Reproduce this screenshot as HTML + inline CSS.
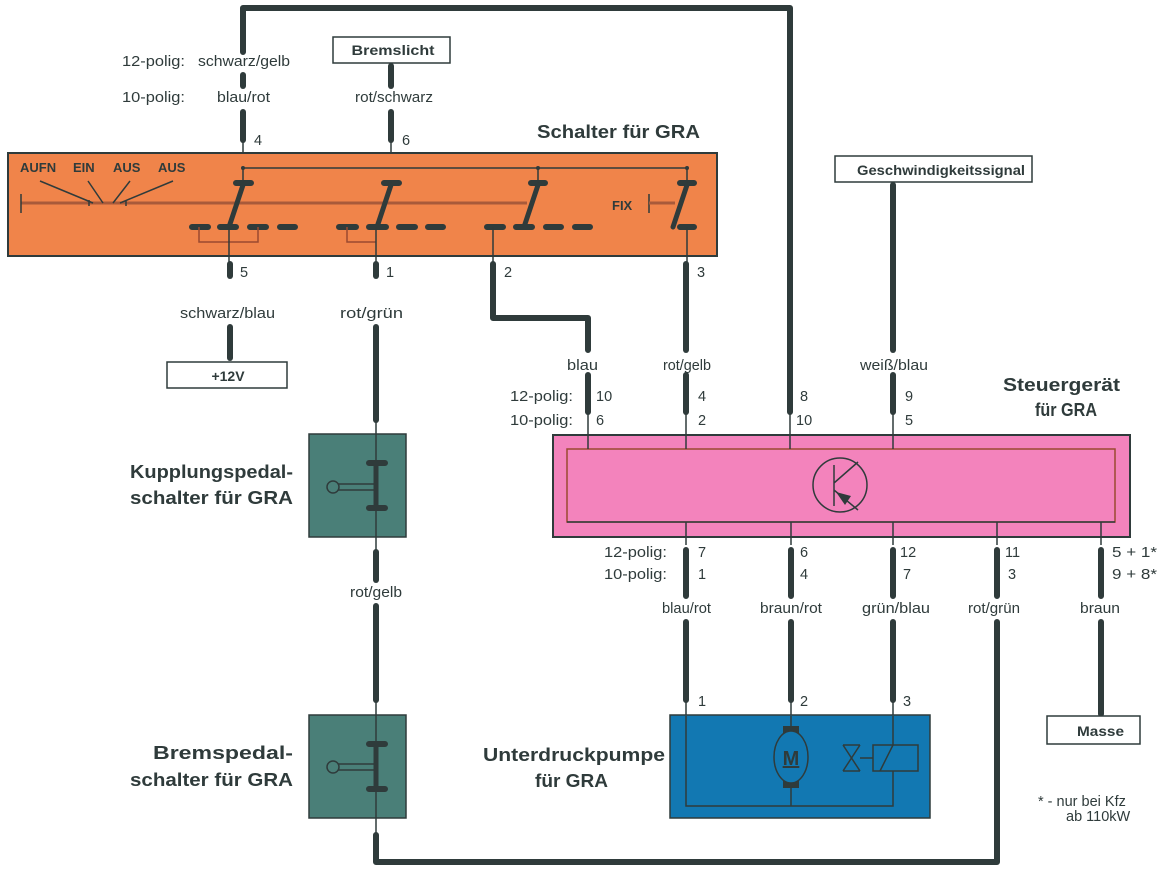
<!DOCTYPE html>
<html><head><meta charset="utf-8"><style>
html,body{margin:0;padding:0;background:#fff;}
svg{display:block;font-family:"Liberation Sans",Arial,sans-serif;}
.t{font-size:14.5px;fill:#2f3b3b;}
.b{font-weight:bold;fill:#2f3b3b;}
.w{stroke:#2f3b3b;stroke-width:6;fill:none;stroke-linecap:round;stroke-linejoin:round;}
.n{stroke:#2f3b3b;stroke-width:1.5;fill:none;}
.br{stroke:#9a4a30;stroke-width:1.5;fill:none;}
.c{stroke:#2f3b3b;stroke-width:6;stroke-linecap:round;}
</style></head><body>
<svg width="1157" height="873" viewBox="0 0 1157 873" xmlns="http://www.w3.org/2000/svg">
<path class="w" d="M243 52 V8 H790 V412"/>
<path class="w" d="M243 75 V86"/>
<path class="w" d="M243 112 V140"/>
<path class="n" d="M243 140 V168"/>
<path class="n" d="M790 412 V449"/>
<rect x="333" y="37" width="117" height="26" fill="#fff" stroke="#2f3b3b" stroke-width="1.5"/>
<text x="393" y="55" class="b" font-size="14" text-anchor="middle" textLength="83" lengthAdjust="spacingAndGlyphs">Bremslicht</text>
<path class="w" d="M391 66 V86"/><path class="w" d="M391 112 V140"/>
<path class="n" d="M391 140 V185"/>
<text x="122" y="66" class="t" textLength="63" lengthAdjust="spacingAndGlyphs">12-polig:</text>
<text x="198" y="66" class="t" textLength="92" lengthAdjust="spacingAndGlyphs">schwarz/gelb</text>
<text x="122" y="102" class="t" textLength="63" lengthAdjust="spacingAndGlyphs">10-polig:</text>
<text x="217" y="102" class="t" textLength="53" lengthAdjust="spacingAndGlyphs">blau/rot</text>
<text x="355" y="102" class="t" textLength="78" lengthAdjust="spacingAndGlyphs">rot/schwarz</text>
<text x="254" y="145" class="t">4</text>
<text x="402" y="145" class="t">6</text>
<text x="537" y="138" class="b" font-size="18" textLength="163" lengthAdjust="spacingAndGlyphs">Schalter für GRA</text>
<rect x="8" y="153" width="709" height="103" fill="#f0844a" stroke="#2f3b3b" stroke-width="2"/>
<path class="n" d="M243 168 H687"/>
<circle cx="243" cy="168" r="2" fill="#2f3b3b"/><circle cx="538" cy="168" r="2" fill="#2f3b3b"/><circle cx="687" cy="168" r="2" fill="#2f3b3b"/>
<path class="n" d="M538 168 V183 M687 168 V183 M243 168 V183"/>
<text x="20" y="172" class="b" font-size="13">AUFN</text>
<text x="73" y="172" class="b" font-size="13">EIN</text>
<text x="113" y="172" class="b" font-size="13">AUS</text>
<text x="158" y="172" class="b" font-size="13">AUS</text>
<path d="M21 203 H527" stroke="#a85a3a" stroke-width="3"/>
<path class="n" d="M21 194 V213 M89 200 V206 M126 200 V206"/>
<path class="n" d="M40 181 L93 203 M88 181 L103 203 M130 181 L113 203 M173 181 L120 203"/>
<text x="612" y="210" class="b" font-size="13">FIX</text>
<path class="n" d="M649 194 V213"/><path d="M649 203 H675" stroke="#a85a3a" stroke-width="3"/>
<g class="c"><path d="M236 183 H251 M384 183 H399 M531 183 H545 M680 183 H694"/></g>
<g stroke="#2f3b3b" stroke-width="5" stroke-linecap="round"><path d="M243 185 L229 227 M391 185 L377 227 M538 185 L524 227 M687 185 L673 227"/></g>
<g class="c"><path d="M192 227 H208 M220 227 H236 M250 227 H266 M280 227 H295 M339 227 H356 M369 227 H386 M399 227 H415 M428 227 H443 M487 227 H503 M516 227 H532 M546 227 H561 M575 227 H590 M680 227 H694"/></g>
<path class="br" d="M199 227 V242 H258 V227 M347 227 V242 H376"/>
<path class="n" d="M229 227 V262 M376 227 V262 M493 227 V262 M687 227 V262"/>
<path class="w" d="M230 264 V276"/><path class="w" d="M230 327 V358"/>
<path class="w" d="M376 264 V276"/><path class="w" d="M376 327 V420"/>
<path class="n" d="M376 420 V434"/>
<path class="w" d="M493 264 V318 H588 V350"/>
<path class="w" d="M588 375 V412"/><path class="n" d="M588 412 V449"/>
<path class="w" d="M686 264 V350"/><path class="w" d="M686 375 V412"/><path class="n" d="M686 412 V449"/>
<text x="240" y="277" class="t">5</text><text x="386" y="277" class="t">1</text><text x="504" y="277" class="t">2</text><text x="697" y="277" class="t">3</text>
<text x="180" y="318" class="t" textLength="95" lengthAdjust="spacingAndGlyphs">schwarz/blau</text>
<text x="340" y="318" class="t" textLength="63" lengthAdjust="spacingAndGlyphs">rot/grün</text>
<rect x="167" y="362" width="120" height="26" fill="#fff" stroke="#2f3b3b" stroke-width="1.5"/>
<text x="228" y="381" class="b" font-size="14" text-anchor="middle">+12V</text>
<rect x="835" y="156" width="197" height="26" fill="#fff" stroke="#2f3b3b" stroke-width="1.5"/>
<text x="857" y="175" class="b" font-size="14" textLength="168" lengthAdjust="spacingAndGlyphs">Geschwindigkeitssignal</text>
<path class="w" d="M893 185 V350"/><path class="w" d="M893 375 V412"/><path class="n" d="M893 412 V449"/>
<text x="567" y="370" class="t" textLength="31" lengthAdjust="spacingAndGlyphs">blau</text>
<text x="663" y="370" class="t" textLength="48" lengthAdjust="spacingAndGlyphs">rot/gelb</text>
<text x="860" y="370" class="t" textLength="68" lengthAdjust="spacingAndGlyphs">weiß/blau</text>
<text x="1003" y="391" class="b" font-size="18" textLength="117" lengthAdjust="spacingAndGlyphs">Steuergerät</text>
<text x="1035" y="416" class="b" font-size="18" textLength="62" lengthAdjust="spacingAndGlyphs">für GRA</text>
<text x="510" y="401" class="t" textLength="63" lengthAdjust="spacingAndGlyphs">12-polig:</text><text x="510" y="425" class="t" textLength="63" lengthAdjust="spacingAndGlyphs">10-polig:</text>
<text x="596" y="401" class="t">10</text><text x="596" y="425" class="t">6</text>
<text x="698" y="401" class="t">4</text><text x="698" y="425" class="t">2</text>
<text x="800" y="401" class="t">8</text><text x="796" y="425" class="t">10</text>
<text x="905" y="401" class="t">9</text><text x="905" y="425" class="t">5</text>
<rect x="553" y="435" width="577" height="102" fill="#f383bc" stroke="#2f3b3b" stroke-width="2"/>
<rect x="567" y="449" width="548" height="73" fill="#f383bc" stroke="#9a4a30" stroke-width="1.5"/>
<path class="n" d="M588 435 V449 M686 435 V449 M790 435 V449 M893 435 V449"/>
<path class="n" d="M567 522 H1115"/>
<circle cx="840" cy="485" r="27" fill="none" stroke="#2f3b3b" stroke-width="1.5"/>
<path class="n" d="M834 465 V506 M834 483 L858 462 M834 490 L858 510"/>
<polygon points="836,492 851,496 845,505" fill="#2f3b3b"/>
<path class="n" d="M686 522 V545 M791 522 V545 M893 522 V545 M997 522 V545 M1101 522 V545"/>
<text x="604" y="557" class="t" textLength="63" lengthAdjust="spacingAndGlyphs">12-polig:</text><text x="604" y="579" class="t" textLength="63" lengthAdjust="spacingAndGlyphs">10-polig:</text>
<text x="698" y="557" class="t">7</text><text x="698" y="579" class="t">1</text>
<text x="800" y="557" class="t">6</text><text x="800" y="579" class="t">4</text>
<text x="900" y="557" class="t">12</text><text x="903" y="579" class="t">7</text>
<text x="1005" y="557" class="t">11</text><text x="1008" y="579" class="t">3</text>
<text x="1112" y="557" class="t" textLength="45" lengthAdjust="spacingAndGlyphs">5 + 1*</text><text x="1112" y="579" class="t" textLength="45" lengthAdjust="spacingAndGlyphs">9 + 8*</text>
<text x="662" y="613" class="t" textLength="49" lengthAdjust="spacingAndGlyphs">blau/rot</text>
<text x="760" y="613" class="t" textLength="62" lengthAdjust="spacingAndGlyphs">braun/rot</text>
<text x="862" y="613" class="t" textLength="68" lengthAdjust="spacingAndGlyphs">grün/blau</text>
<text x="968" y="613" class="t" textLength="52" lengthAdjust="spacingAndGlyphs">rot/grün</text>
<text x="1080" y="613" class="t" textLength="40" lengthAdjust="spacingAndGlyphs">braun</text>
<path class="w" d="M686 550 V596 M791 550 V596 M893 550 V596 M997 550 V596 M1101 550 V596"/>
<path class="w" d="M686 622 V700 M791 622 V700 M893 622 V700"/>
<path class="n" d="M686 700 V716 M791 700 V716 M893 700 V716"/>
<path class="w" d="M1101 622 V714"/>
<path class="w" d="M997 622 V862 H376 V835"/>
<path class="n" d="M376 835 V818"/>
<text x="698" y="706" class="t">1</text><text x="800" y="706" class="t">2</text><text x="903" y="706" class="t">3</text>
<rect x="1047" y="716" width="93" height="28" fill="#fff" stroke="#2f3b3b" stroke-width="1.5"/>
<text x="1077" y="736" class="b" font-size="14" textLength="47" lengthAdjust="spacingAndGlyphs">Masse</text>
<text x="1038" y="806" class="t" font-size="13">*   - nur bei Kfz</text>
<text x="1066" y="821" class="t" font-size="13">ab 110kW</text>
<rect x="670" y="715" width="260" height="103" fill="#1278b2" stroke="#2f3b3b" stroke-width="1.5"/>
<path class="n" d="M686 716 V806 H893 V716 M791 716 V806"/>
<rect x="783" y="726" width="16" height="8" fill="#2f3b3b"/><rect x="783" y="780" width="16" height="8" fill="#2f3b3b"/>
<ellipse cx="791" cy="757" rx="17" ry="26" fill="#1278b2" stroke="#2f3b3b" stroke-width="1.5"/>
<text x="791" y="765" class="b" font-size="20" text-anchor="middle" style="text-decoration:underline">M</text>
<rect x="873" y="745" width="45" height="26" fill="#1278b2" stroke="#2f3b3b" stroke-width="1.5"/>
<path class="n" d="M880 771 L893 745 M860 758 H873 M843 745 L860 771 M860 745 L843 771 M843 745 H860 M843 771 H860"/>
<text x="483" y="761" class="b" font-size="18" textLength="182" lengthAdjust="spacingAndGlyphs">Unterdruckpumpe</text>
<text x="535" y="787" class="b" font-size="18" textLength="73" lengthAdjust="spacingAndGlyphs">für GRA</text>
<rect x="309" y="434" width="97" height="103" fill="#4a7f78" stroke="#2f3b3b" stroke-width="1.5"/>
<path class="n" d="M376 434 V537"/>
<path d="M376 465 V508" stroke="#2f3b3b" stroke-width="5"/>
<path class="c" d="M369 463 H385 M369 508 H385" stroke-width="5"/>
<path class="n" d="M338 484 H374 M338 490 H374"/>
<circle cx="333" cy="487" r="6" fill="none" stroke="#2f3b3b" stroke-width="1.5"/>
<text x="130" y="478" class="b" font-size="18" textLength="163" lengthAdjust="spacingAndGlyphs">Kupplungspedal-</text>
<text x="130" y="504" class="b" font-size="18" textLength="163" lengthAdjust="spacingAndGlyphs">schalter für GRA</text>
<path class="n" d="M376 537 V550"/>
<path class="w" d="M376 552 V580"/><text x="350" y="597" class="t" textLength="52" lengthAdjust="spacingAndGlyphs">rot/gelb</text>
<path class="w" d="M376 606 V700"/><path class="n" d="M376 700 V716"/>
<rect x="309" y="715" width="97" height="103" fill="#4a7f78" stroke="#2f3b3b" stroke-width="1.5"/>
<path class="n" d="M376 715 V818"/>
<path d="M376 744 V789" stroke="#2f3b3b" stroke-width="5"/>
<path class="c" d="M369 744 H385 M369 789 H385" stroke-width="5"/>
<path class="n" d="M338 764 H374 M338 770 H374"/>
<circle cx="333" cy="767" r="6" fill="none" stroke="#2f3b3b" stroke-width="1.5"/>
<text x="153" y="759" class="b" font-size="18" textLength="140" lengthAdjust="spacingAndGlyphs">Bremspedal-</text>
<text x="130" y="786" class="b" font-size="18" textLength="163" lengthAdjust="spacingAndGlyphs">schalter für GRA</text>
</svg>
</body></html>
